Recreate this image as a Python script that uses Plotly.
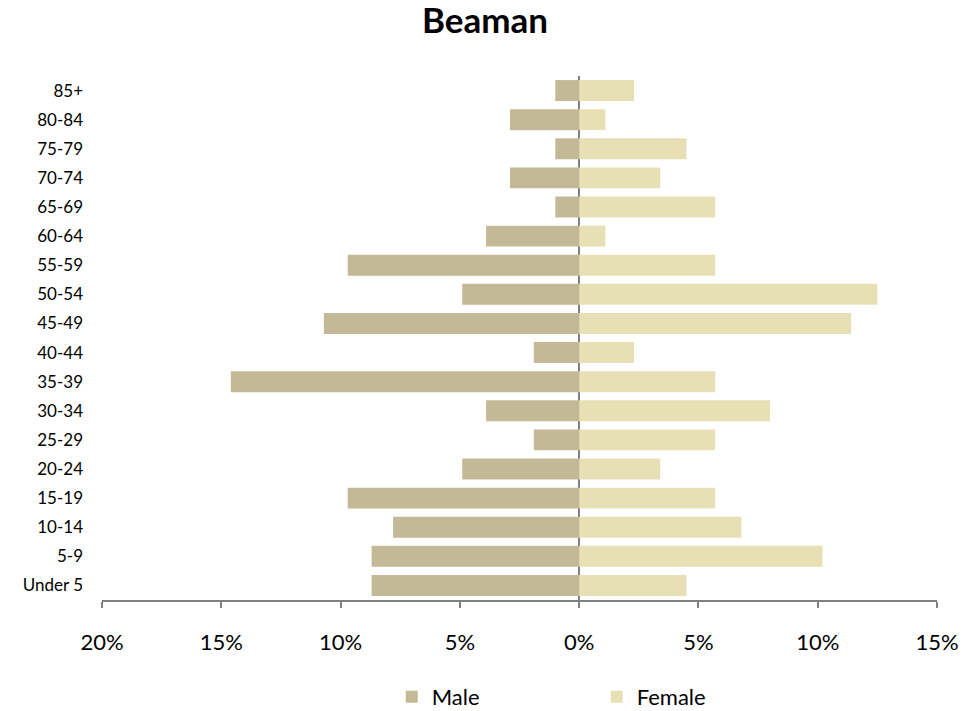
import plotly.graph_objects as go

age_groups = ["Under 5", "5-9", "10-14", "15-19", "20-24", "25-29", "30-34", "35-39",
              "40-44", "45-49", "50-54", "55-59", "60-64", "65-69", "70-74", "75-79",
              "80-84", "85+"]
male_pct = [8.7, 8.7, 7.8, 9.7, 4.9, 1.9, 3.9, 14.6, 1.9, 10.7, 4.9, 9.7, 3.9, 1.0, 2.9, 1.0, 2.9, 1.0]
female_pct = [4.5, 10.2, 6.8, 5.7, 3.4, 5.7, 8.0, 5.7, 2.3, 11.4, 12.5, 5.7, 1.1, 5.7, 3.4, 4.5, 1.1, 2.3]
tick_vals = [-20, -15, -10, -5, 0, 5, 10, 15]
tick_text = ["20%", "15%", "10%", "5%", "0%", "5%", "10%", "15%"]

male_color = "#C4B996"
female_color = "#E8E0B5"
font_family = "Lato, 'Open Sans', sans-serif"

W, H = 971, 703  # page body has an 8px margin

fig = go.Figure()
fig.add_trace(go.Bar(y=age_groups, x=[-v for v in male_pct], orientation="h",
                     name="Male", marker=dict(color=male_color, line=dict(width=0)),
                     hovertemplate="%{y}: %{customdata}%<extra>Male</extra>",
                     customdata=male_pct))
fig.add_trace(go.Bar(y=age_groups, x=female_pct, orientation="h",
                     name="Female", marker=dict(color=female_color, line=dict(width=0)),
                     hovertemplate="%{y}: %{x}%<extra>Female</extra>"))

fig.update_layout(
    width=W, height=H,
    margin=dict(l=94, r=42, t=68, b=111, autoexpand=False),
    paper_bgcolor="white", plot_bgcolor="white",
    barmode="relative", bargap=0.28,
    font=dict(family=font_family, size=17, color="black"),
    title=dict(text="<b>Beaman</b>", x=477 / W, xref="container", xanchor="center",
               y=1, yref="container", yanchor="top", pad=dict(t=0, b=0),
               font=dict(size=35, family=font_family, color="black")),
    xaxis=dict(range=[-20, 15], tickvals=tick_vals, ticktext=tick_text,
               showgrid=False, zeroline=True, zerolinecolor="#808080", zerolinewidth=2,
               showline=True, linecolor="#808080", linewidth=1.5,
               ticks="outside", ticklen=6, tickcolor="#808080", tickwidth=1.5,
               tickfont=dict(size=22), ticklabelstandoff=16, layer="above traces",
               automargin=False, fixedrange=True),
    yaxis=dict(categoryorder="array", categoryarray=age_groups, range=[-0.5, 17.5],
               showgrid=False, zeroline=False, showline=False, ticks="",
               tickfont=dict(size=17), ticklabelstandoff=18, automargin=False,
               fixedrange=True),
    legend=dict(orientation="h", x=0.347, xanchor="left", y=-0.185, yanchor="middle",
                font=dict(size=22), entrywidth=160, entrywidthmode="pixels",
                itemwidth=30, traceorder="normal"),
    showlegend=True,
)

fig.write_html("out.html")
